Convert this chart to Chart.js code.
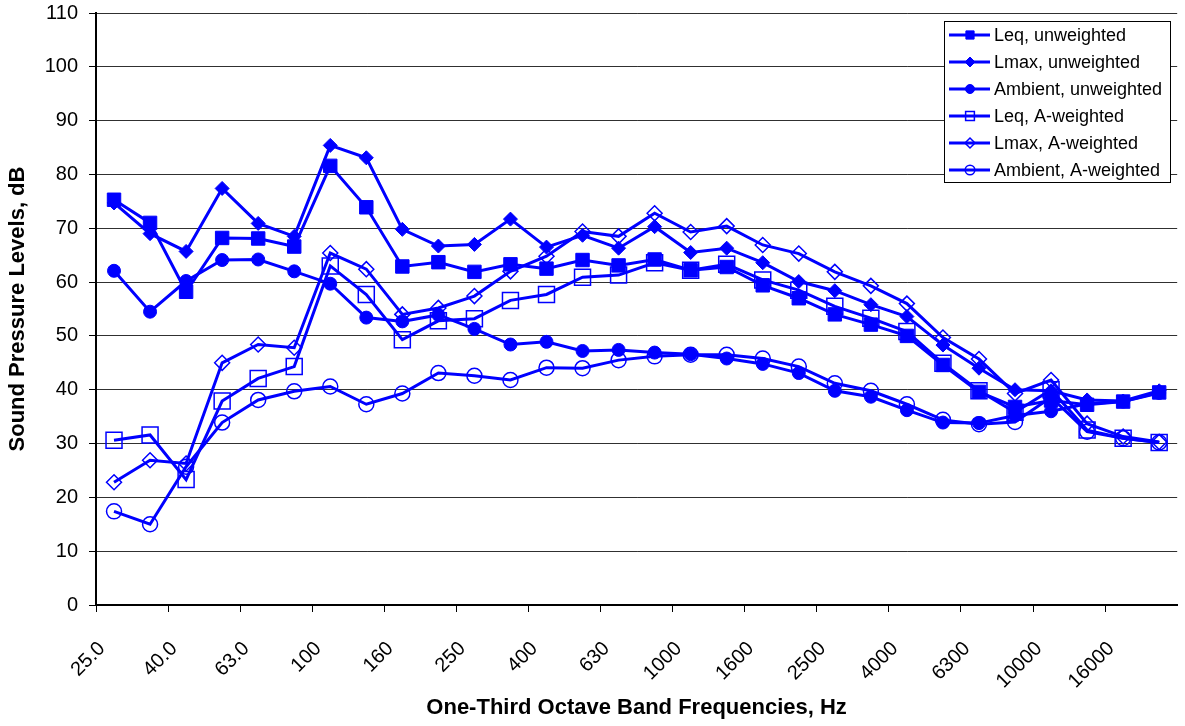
<!DOCTYPE html>
<html>
<head>
<meta charset="utf-8">
<script src="https://cdn.jsdelivr.net/npm/chart.js@4/dist/chart.umd.min.js"></script>
<style>
  html, body { margin: 0; padding: 0; background: #fff; overflow: hidden; }
  #wrap { width: 1190px; height: 726px; }
</style>
</head>
<body>
<div id="wrap"><canvas id="c" width="1190" height="726"></canvas></div>
<script>
// One-third octave band centre frequencies (Hz)
const bands = ['25.0','31.5','40.0','50.0','63.0','80.0','100','125','160','200','250','315','400','500','630','800','1000','1250','1600','2000','2500','3150','4000','5000','6300','8000','10000','12500','16000','20000'];

// Sound pressure levels, dB
const leqUnweighted     = [75.3, 71.0, 58.2, 68.2, 68.1, 66.6, 81.6, 73.9, 62.9, 63.7, 61.9, 63.3, 62.5, 64.1, 63.1, 64.2, 62.2, 62.8, 59.4, 57.0, 54.0, 52.1, 50.0, 44.6, 39.6, 36.8, 38.0, 37.2, 37.8, 39.5];
const lmaxUnweighted    = [74.7, 69.0, 65.7, 77.4, 70.9, 68.5, 85.4, 83.1, 69.8, 66.7, 67.0, 71.7, 66.5, 68.7, 66.3, 70.3, 65.5, 66.3, 63.6, 60.1, 58.4, 55.8, 53.6, 48.3, 44.0, 40.0, 39.8, 38.1, 37.9, 39.8];
const ambientUnweighted = [62.1, 54.5, 60.2, 64.1, 64.2, 62.0, 59.7, 53.4, 52.7, 53.9, 51.3, 48.4, 48.9, 47.2, 47.4, 46.9, 46.6, 45.8, 44.8, 43.1, 39.8, 38.7, 36.2, 33.9, 33.8, 35.2, 36.0, 37.4, 37.8, 39.4];
const leqAWeighted      = [30.6, 31.6, 23.3, 37.9, 42.1, 44.3, 63.0, 57.7, 49.3, 52.8, 53.2, 56.6, 57.7, 60.9, 61.3, 63.6, 62.2, 63.3, 60.4, 58.5, 55.5, 53.3, 50.8, 44.9, 39.8, 35.8, 40.0, 32.5, 31.0, 30.2];
const lmaxAWeighted     = [22.8, 26.9, 26.3, 45.0, 48.4, 47.8, 65.4, 62.4, 54.0, 55.2, 57.4, 62.0, 64.8, 69.4, 68.5, 72.8, 69.3, 70.4, 66.9, 65.3, 61.9, 59.3, 56.0, 49.7, 45.7, 39.3, 41.8, 33.7, 31.3, 30.3];
const ambientAWeighted  = [17.4, 15.0, 25.7, 33.9, 38.1, 39.7, 40.6, 37.3, 39.3, 43.1, 42.6, 41.8, 44.1, 44.0, 45.5, 46.2, 46.5, 46.5, 45.8, 44.3, 41.2, 39.8, 37.3, 34.4, 33.6, 34.0, 38.6, 32.2, 31.0, 30.2];

const yTicks = [0, 10, 20, 30, 40, 50, 60, 70, 80, 90, 100, 110];

const BLUE = '#0000ff';
const FONT = "'Liberation Sans', Arial, sans-serif";

function series(label, data, style, filled, radius, legendRadius, order) {
  return {
    label, data, order,
    borderColor: BLUE,
    borderWidth: 3,
    tension: 0,
    fill: false,
    pointStyle: style,
    pointRadius: radius,
    pointHoverRadius: radius,
    pointBackgroundColor: filled ? BLUE : 'rgba(0,0,0,0)',
    pointBorderColor: BLUE,
    pointBorderWidth: filled ? 1 : 1.5,
    legendRadius
  };
}

// Boxed legend inside the plot, top right
const boxedLegend = {
  id: 'boxedLegend',
  afterDraw(chart) {
    const ctx = chart.ctx;
    const x0 = 944.5, y0 = 21.5, w = 226, h = 161;
    ctx.save();
    ctx.fillStyle = '#ffffff';
    ctx.fillRect(x0, y0, w, h);
    ctx.strokeStyle = '#000000';
    ctx.lineWidth = 1;
    ctx.strokeRect(x0, y0, w, h);
    chart.data.datasets.forEach((ds, i) => {
      const cy = 35 + i * 27;
      ctx.strokeStyle = BLUE;
      ctx.lineWidth = 3;
      ctx.beginPath();
      ctx.moveTo(949, cy);
      ctx.lineTo(990, cy);
      ctx.stroke();
      ctx.fillStyle = ds.pointBackgroundColor;
      ctx.strokeStyle = BLUE;
      ctx.lineWidth = ds.pointBorderWidth;
      Chart.helpers.drawPoint(ctx, {
        pointStyle: ds.pointStyle,
        radius: ds.legendRadius,
        rotation: 0,
        borderWidth: ds.pointBorderWidth
      }, 970, cy);
      ctx.fillStyle = '#000000';
      ctx.font = '18px ' + FONT;
      ctx.textAlign = 'left';
      ctx.textBaseline = 'middle';
      ctx.fillText(ds.label, 994, cy + 1);
    });
    ctx.restore();
  }
};

new Chart(document.getElementById('c'), {
  type: 'line',
  data: {
    labels: bands,
    datasets: [
      series('Leq, unweighted',     leqUnweighted,     'rect',    true,  9.5, 5.8, 6),
      series('Lmax, unweighted',    lmaxUnweighted,    'rectRot', true,  7,   5,   5),
      series('Ambient, unweighted', ambientUnweighted, 'circle',  true,  6.5, 4.5, 4),
      series('Leq, A-weighted',     leqAWeighted,      'rect',    false, 11.3, 6.2, 3),
      series('Lmax, A-weighted',    lmaxAWeighted,     'rectRot', false, 7.5, 5,   2),
      series('Ambient, A-weighted', ambientAWeighted,  'circle',  false, 7.5, 4.8, 1)
    ]
  },
  options: {
    responsive: false,
    animation: false,
    devicePixelRatio: 1,
    layout: { padding: { top: 13, left: 0, right: 0, bottom: 0 } },
    plugins: { legend: { display: false }, tooltip: { enabled: false } },
    scales: {
      x: {
        type: 'category',
        offset: true,
        afterFit(scale) {
          scale.height = 121;
          scale.paddingLeft = 0;
          scale.paddingRight = 0;
        },
        grid: {
          display: true,
          offset: true,
          drawOnChartArea: false,
          drawTicks: true,
          tickLength: 7,
          tickWidth: 1,
          tickColor: (c) => (c.index !== undefined && c.index % 2 === 0) ? '#000000' : 'rgba(0,0,0,0)'
        },
        border: { display: true, color: '#000000', width: 2 },
        ticks: {
          autoSkip: false,
          minRotation: 45,
          maxRotation: 45,
          padding: 25,
          labelOffset: -12,
          color: '#000000',
          font: { family: FONT, size: 20 },
          callback: (v, i) => (i % 2 === 0 ? bands[i] : '')
        },
        title: {
          display: true,
          text: 'One-Third Octave Band Frequencies, Hz',
          color: '#000000',
          font: { family: FONT, size: 22, weight: 'bold' },
          padding: { top: 0, bottom: 5 }
        }
      },
      y: {
        min: 0,
        max: 110,
        afterFit(scale) {
          scale.width = 96;
          scale.paddingTop = 0;
          scale.paddingBottom = 0;
        },
        afterBuildTicks(scale) { scale.ticks = yTicks.map(v => ({ value: v })); },
        grid: {
          color: '#303030',
          lineWidth: 1,
          drawTicks: true,
          tickLength: 7,
          tickColor: '#000000'
        },
        border: { display: true, color: '#000000', width: 2 },
        ticks: {
          padding: 11,
          color: '#000000',
          font: { family: FONT, size: 20 }
        },
        title: {
          display: true,
          text: 'Sound Pressure Levels, dB',
          color: '#000000',
          font: { family: FONT, size: 22, weight: 'bold' },
          padding: { top: 5, bottom: 0 }
        }
      }
    }
  },
  plugins: [boxedLegend]
});
</script>
</body>
</html>
